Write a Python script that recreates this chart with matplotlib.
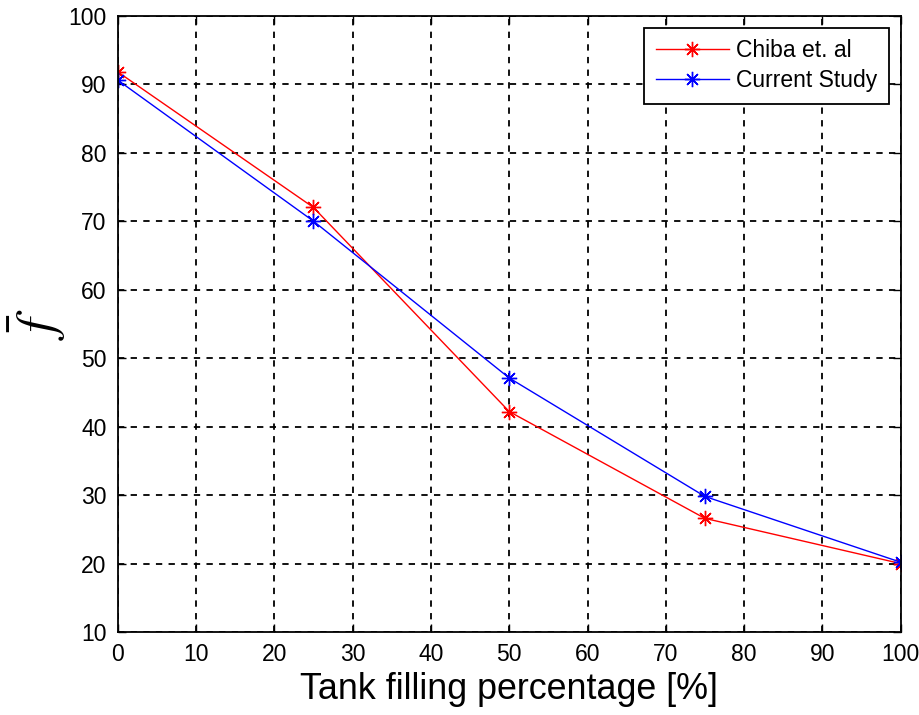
import numpy as np
import matplotlib.pyplot as plt

plt.rcParams['font.family'] = ['Liberation Sans', 'DejaVu Sans']
plt.rcParams['mathtext.fontset'] = 'stix'

# tank filling percentage and mean frequency values
fill = [0, 25, 50, 75, 100]
chiba = [91.8, 72.0, 42.2, 26.6, 20.0]
current = [90.6, 70.0, 47.1, 29.8, 20.2]

fig = plt.figure(figsize=(9.2, 7.15), dpi=100)
ax = fig.add_axes([0.128, 0.116, 0.851, 0.862])

star = (8, 2, 0)  # asterisk marker
ax.plot(fill, chiba, color='red', lw=1.0, marker=star, ms=11, mew=1.0, label='Chiba et. al')
ax.plot(fill, current, color='blue', lw=1.0, marker=star, ms=11, mew=1.0, label='Current Study')

ax.set_xlim(0, 100)
ax.set_ylim(10, 100)
ax.set_xticks(np.arange(0, 101, 10))
ax.set_yticks(np.arange(10, 101, 10))
ax.grid(True, color='black', linestyle=(0, (3.5, 3.5)), lw=1.3)
ax.tick_params(direction='in', top=True, right=True, labelsize=16.5, length=6, width=1, pad=8)
for s in ax.spines.values():
    s.set_linewidth(1.3)

ax.set_xlabel('Tank filling percentage [%]', fontsize=25.8, labelpad=4)
ax.set_ylabel(r'$\bar{f}$', fontsize=38, labelpad=0)

leg = ax.legend(loc='upper right', bbox_to_anchor=(0.9847, 0.9805), borderaxespad=0,
                fontsize=16.5, frameon=True, fancybox=False, edgecolor='black',
                framealpha=1, handlelength=3.2, handletextpad=0.3, borderpad=0.5,
                labelspacing=0.3)
leg.get_frame().set_linewidth(1.3)

fig.savefig('out.png', dpi=100)
